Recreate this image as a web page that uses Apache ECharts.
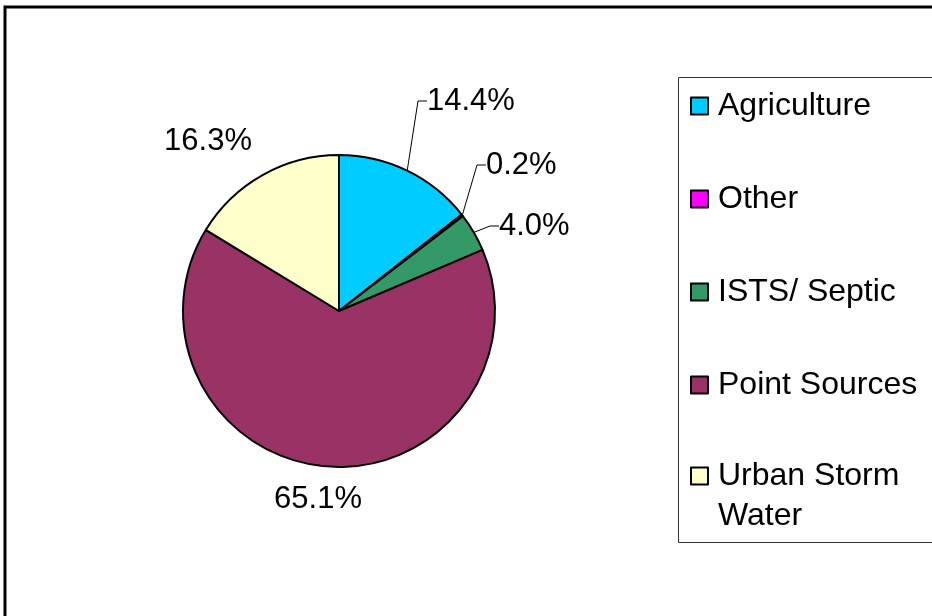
<!DOCTYPE html>
<html>
<head>
<meta charset="utf-8">
<script src="https://cdn.jsdelivr.net/npm/echarts@6/dist/echarts.min.js"></script>
<style>
  html, body { margin: 0; padding: 0; background: #fff; }
  #chart { width: 932px; height: 616px; }
</style>
</head>
<body>
<div id="chart"></div>
<script>
const categories = ['Agriculture', 'Other', 'ISTS/ Septic', 'Point Sources', 'Urban Storm Water'];
const legendLabels = ['Agriculture', 'Other', 'ISTS/ Septic', 'Point Sources', 'Urban Storm\nWater'];
const shares = [14.4, 0.2, 4.0, 65.1, 16.3];
const colors = ['#00CCFF', '#FF00FF', '#339966', '#993366', '#FFFFCC'];

// where each percent label sits: [x, y, align, has leader line]
const labelSpots = [
  [427, 101, 'left', true],
  [486, 165, 'left', true],
  [499, 226, 'left', true],
  [318, 499, 'center', false],
  [208, 141, 'center', false],
];

const LINE_H = 40;

const legendBase = {
  orient: 'vertical',
  left: 690,
  padding: 0,
  itemGap: 53,
  itemWidth: 17,
  itemHeight: 17,
  icon: 'rect',
  selectedMode: false,
  itemStyle: { borderColor: '#000', borderWidth: 2 },
  textStyle: { fontSize: 32, color: '#000', lineHeight: LINE_H, padding: [0, 0, 0, 5] },
};

const chart = echarts.init(document.getElementById('chart'), null, { renderer: 'canvas' });

chart.setOption({
  animation: false,
  textStyle: { fontFamily: 'Liberation Sans, Arial, sans-serif' },
  graphic: [
    {
      type: 'rect',
      shape: { x: 5, y: 7, width: 1000, height: 700 },
      style: { fill: 'none', stroke: '#000', lineWidth: 3 },
    },
    {
      type: 'rect',
      shape: { x: 678.5, y: 77.5, width: 300, height: 465 },
      style: { fill: 'none', stroke: '#333', lineWidth: 1 },
    },
  ],
  legend: [
    Object.assign({}, legendBase, {
      top: 86,
      formatter: (name) => legendLabels[categories.indexOf(name)],
      data: categories.slice(0, 4),
    }),
    // two-line entry: a blank first line keeps the icon level with "Urban Storm"
    Object.assign({}, legendBase, {
      top: 416,
      formatter: (name) => '\n' + legendLabels[categories.indexOf(name)],
      data: categories.slice(4),
    }),
  ],
  series: [
    {
      type: 'pie',
      center: [339, 311],
      radius: 156,
      startAngle: 90,
      clockwise: true,
      avoidLabelOverlap: false,
      itemStyle: { borderColor: '#000', borderWidth: 2 },
      label: {
        show: true,
        position: 'outside',
        fontSize: 31,
        color: '#000',
        formatter: (p) => p.value.toFixed(1) + '%',
      },
      labelLine: {
        show: true,
        length: 20,
        length2: 9,
        smooth: false,
        lineStyle: { color: '#000', width: 1 },
      },
      labelLayout: (params) => {
        const s = labelSpots[params.dataIndex];
        return { x: s[0], y: s[1], align: s[2], verticalAlign: 'middle' };
      },
      data: categories.map((name, i) => ({
        name,
        value: shares[i],
        itemStyle: { color: colors[i] },
        labelLine: { show: labelSpots[i][3] },
      })),
    },
  ],
});
</script>
</body>
</html>
